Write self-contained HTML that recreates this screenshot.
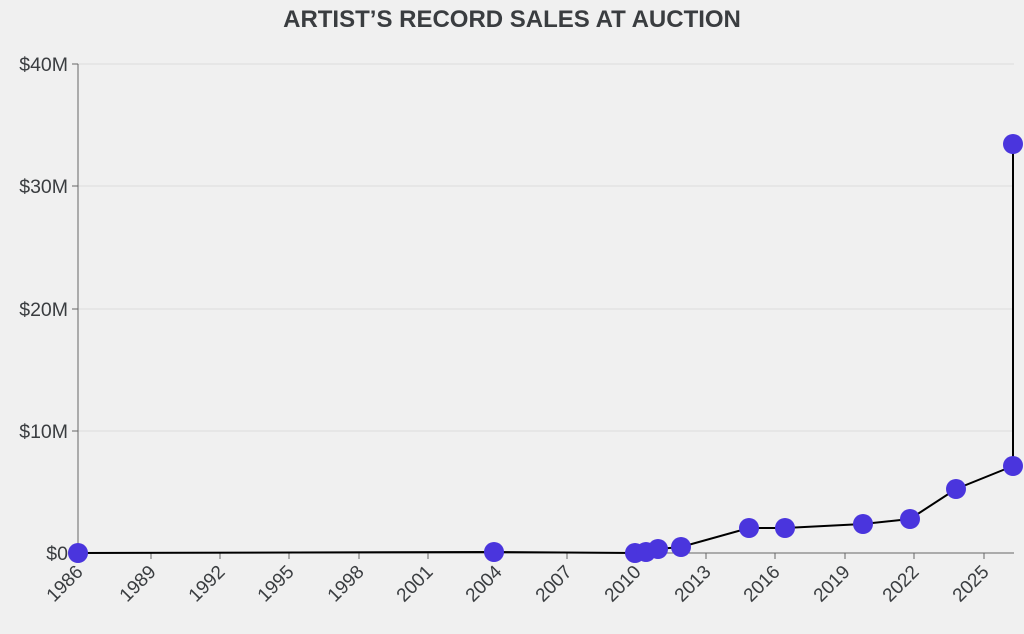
<!DOCTYPE html>
<html><head><style>
html,body{margin:0;padding:0;background:#f0f0f0;}
svg{display:block;font-family:"Liberation Sans",sans-serif;}
</style></head><body>
<svg width="1024" height="634" viewBox="0 0 1024 634">
<rect width="1024" height="634" fill="#f0f0f0"/>
<text x="512" y="27" text-anchor="middle" font-size="24" font-weight="bold" fill="#3a3d40">ARTIST’S RECORD SALES AT AUCTION</text>
<g stroke="#dcdcdc" stroke-width="1">
<line x1="78" y1="64" x2="1014" y2="64"/><line x1="78" y1="186" x2="1014" y2="186"/>
<line x1="78" y1="309" x2="1014" y2="309"/><line x1="78" y1="431" x2="1014" y2="431"/>
</g>
<line x1="78" y1="64" x2="78" y2="553" stroke="#666" stroke-width="1"/>
<line x1="78" y1="553" x2="1014" y2="553" stroke="#666" stroke-width="1"/>
<g stroke="#666"><line x1="72" y1="64" x2="78" y2="64"/><line x1="72" y1="186" x2="78" y2="186"/><line x1="72" y1="309" x2="78" y2="309"/><line x1="72" y1="431" x2="78" y2="431"/><line x1="72" y1="553" x2="78" y2="553"/></g>
<g font-size="19.5" fill="#3a3d40" text-anchor="end">
<text x="68" y="71">$40M</text><text x="68" y="193">$30M</text><text x="68" y="316">$20M</text><text x="68" y="438">$10M</text><text x="68" y="560">$0</text>
</g>
<g stroke="#666">
<line x1="78" y1="553" x2="78" y2="559"/><line x1="151" y1="553" x2="151" y2="559"/><line x1="220" y1="553" x2="220" y2="559"/><line x1="289" y1="553" x2="289" y2="559"/><line x1="359" y1="553" x2="359" y2="559"/><line x1="428" y1="553" x2="428" y2="559"/><line x1="497" y1="553" x2="497" y2="559"/><line x1="567" y1="553" x2="567" y2="559"/><line x1="636" y1="553" x2="636" y2="559"/><line x1="706" y1="553" x2="706" y2="559"/><line x1="775" y1="553" x2="775" y2="559"/><line x1="845" y1="553" x2="845" y2="559"/><line x1="914" y1="553" x2="914" y2="559"/><line x1="984" y1="553" x2="984" y2="559"/>
</g>
<g font-size="19" fill="#3a3d40" text-anchor="end">
<text transform="translate(84,573) rotate(-45)">1986</text>
<text transform="translate(157,573) rotate(-45)">1989</text>
<text transform="translate(226,573) rotate(-45)">1992</text>
<text transform="translate(295,573) rotate(-45)">1995</text>
<text transform="translate(365,573) rotate(-45)">1998</text>
<text transform="translate(434,573) rotate(-45)">2001</text>
<text transform="translate(503,573) rotate(-45)">2004</text>
<text transform="translate(573,573) rotate(-45)">2007</text>
<text transform="translate(642,573) rotate(-45)">2010</text>
<text transform="translate(712,573) rotate(-45)">2013</text>
<text transform="translate(781,573) rotate(-45)">2016</text>
<text transform="translate(851,573) rotate(-45)">2019</text>
<text transform="translate(920,573) rotate(-45)">2022</text>
<text transform="translate(990,573) rotate(-45)">2025</text>
</g>
<polyline fill="none" stroke="#000" stroke-width="2" points="78,553 494,552 635,553 646,552 658,549 681,547 749,528 785,528 863,524 910,519 956,489 1013,466 1013,144"/>
<g fill="#4a35dd">
<circle cx="78" cy="553" r="10"/><circle cx="494" cy="552" r="10"/><circle cx="635" cy="553" r="10"/><circle cx="646" cy="552" r="10"/><circle cx="658" cy="549" r="10"/><circle cx="681" cy="547" r="10"/><circle cx="749" cy="528" r="10"/><circle cx="785" cy="528" r="10"/><circle cx="863" cy="524" r="10"/><circle cx="910" cy="519" r="10"/><circle cx="956" cy="489" r="10"/><circle cx="1013" cy="466" r="10"/><circle cx="1013" cy="144" r="10"/>
</g>
</svg>
</body></html>
